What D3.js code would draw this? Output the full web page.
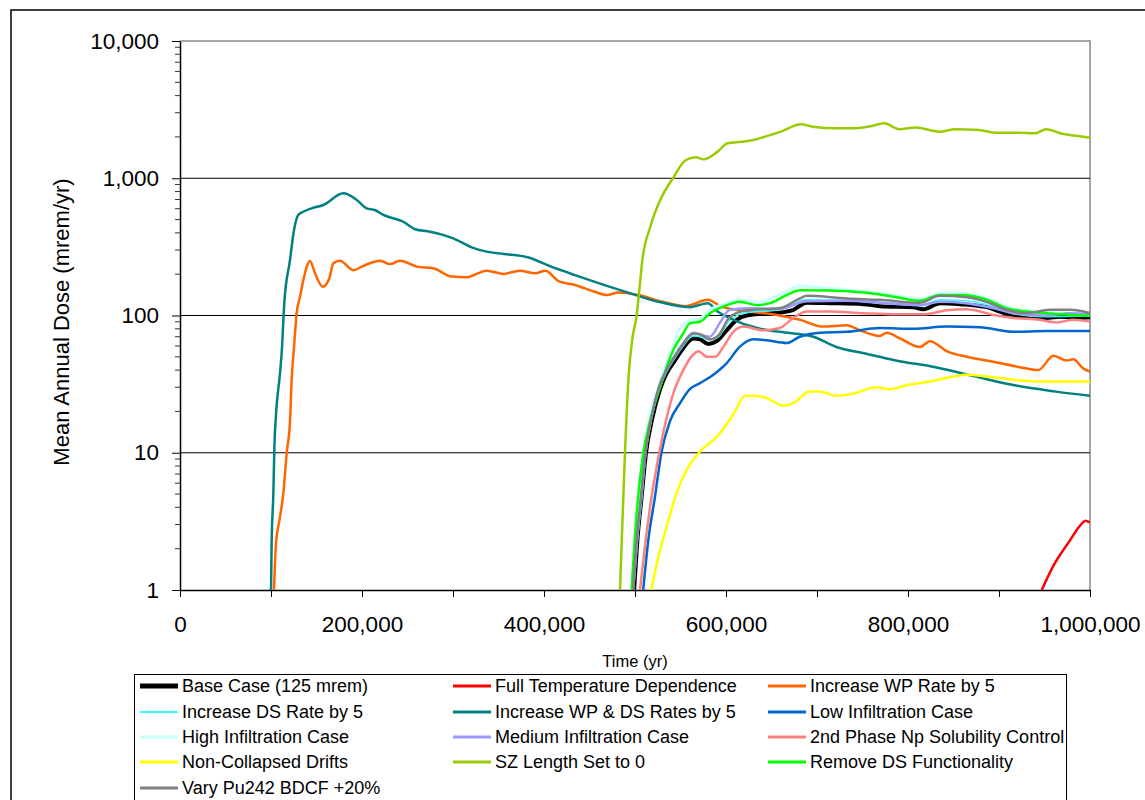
<!DOCTYPE html>
<html>
<head>
<meta charset="utf-8">
<script src="https://cdn.jsdelivr.net/npm/d3@7"></script>
<style>
  body { margin: 0; background: #fff; }
  svg { font-family: "Liberation Sans", Arial, sans-serif; }
</style>
</head>
<body>
<svg id="chart" width="1145" height="800"></svg>
<script>
// [year, mean annual dose in mrem/yr]
const baseCase = [[499000,1],[502600,2.3],[507300,4.8],[512100,10],[518300,17],[527500,29],[534800,38],[543900,47],[553100,58],[564100,68],[571400,67],[580600,62],[589700,65],[600700,78],[611700,93],[622700,100],[641000,103],[659300,105],[674000,110],[688600,124],[714300,123],[750900,121],[769200,117],[805800,115],[816800,111],[835200,123],[857100,121],[886400,115],[908400,103],[926700,98],[952400,96],[967000,98],[989000,96],[1000000,97]];
const fullTemp = [[946900,1],[959700,1.5],[978000,2.3],[990000,3.0],[995000,3.2],[1000000,3.1]];
const increaseWP = [[103300,1],[105500,2.2],[109200,3.2],[113600,5.1],[117200,9.9],[120900,17],[122700,34],[125300,59],[128200,104],[131900,137],[135500,181],[142900,250],[148400,203],[156800,162],[164100,187],[168500,240],[175800,251],[190500,214],[201500,230],[219800,251],[230800,237],[241800,251],[260100,227],[278400,221],[298500,192],[315000,190],[337000,212],[355800,201],[373200,212],[390500,203],[401400,212],[416700,177],[434000,167],[455800,149],[468900,141],[481900,147],[503700,141],[529900,126],[555900,117],[579900,130],[595200,116],[625600,107],[656000,101],[681300,93],[706900,83],[732600,85],[747300,78],[769200,71],[776600,75],[791200,68],[813200,59],[824200,65],[842500,55],[864500,50],[893800,46],[923100,42],[943200,40],[959700,51],[974400,47],[981700,48],[992700,41],[1000000,39]];
const increaseDS = [[498500,1],[503000,2.4],[508000,5],[512000,10],[518500,18],[527500,30],[535000,39],[544000,49],[553000,60],[564000,71],[572000,70],[582000,66],[592000,70],[604000,92],[622700,105],[659000,110],[688600,130],[733000,128],[769000,125],[813000,118],[835000,130],[864000,128],[894000,116],[916000,103],[952000,98],[1000000,99]];
const increaseWPDS = [[100000,1],[100700,2.2],[102600,5.1],[103700,11],[105500,19],[109900,38],[111700,53],[114600,123],[120900,254],[125300,420],[130000,540],[135500,570],[144700,604],[157500,638],[179500,777],[194200,695],[205000,604],[214000,587],[223400,540],[245400,482],[258200,425],[274700,408],[300300,365],[320500,314],[337000,292],[355800,281],[381900,266],[408000,227],[434000,197],[460000,172],[495000,145],[525500,126],[560300,115],[579900,123],[590800,107],[608200,93],[634300,81],[659000,76],[696000,70],[721300,59],[751800,53],[786600,47],[830100,42],[873600,36],[917100,31],[960700,28],[1000000,26]];
const lowInfil = [[509000,1],[514600,2.3],[522000,4.8],[529000,10],[538500,17],[549500,23],[560000,29],[571000,32],[586000,37],[600800,45],[615000,59],[630000,67],[644700,66],[666700,63],[681000,70],[703000,75],[733000,76],[769000,81],[806000,80],[842500,83],[879000,82],[916000,76],[952000,77],[1000000,77]];
const highInfil = [[497000,1],[501500,3],[508000,9],[515000,17],[526000,31],[540000,55],[549000,80],[560000,92],[571000,95],[582000,110],[597000,120],[615000,130],[634000,125],[666700,150],[681000,165],[714000,158],[751000,150],[787600,140],[813000,132],[835000,145],[857000,145],[886000,134],[908000,116],[952000,106],[1000000,102]];
const mediumInfil = [[498000,1],[502500,2.4],[507000,5],[511500,10],[518000,18],[527000,31],[534500,40],[543500,51],[553000,63],[564000,75],[572000,72],[582000,70],[594000,90],[604000,110],[622700,113],[659000,112],[688600,127],[733000,128],[769000,124],[813000,119],[835000,126],[864000,123],[894000,113],[916000,104],[952000,100],[978000,104],[1000000,102]];
const npSolubility = [[505500,1],[511000,2.1],[516500,4],[523800,7.9],[533000,16],[542000,27],[553000,40],[564000,52],[569600,55],[578800,50],[588000,50],[597000,59],[608000,76],[619000,83],[641000,78],[659000,81],[674000,96],[688600,107],[714000,107],[751000,104],[787600,102],[817000,102],[842500,109],[864500,111],[894000,101],[916000,96],[945000,93],[963000,89],[982000,93],[1000000,90]];
const nonCollapsed = [[518000,1],[525600,1.75],[534800,2.9],[545800,5.1],[556800,7.5],[571400,10.2],[589700,13],[608000,19],[621000,26],[632000,26],[644700,25],[663000,22],[674000,23],[692000,28],[703000,28],[721000,26],[740000,27],[765600,30],[780000,29],[798500,31],[824000,33],[850000,36],[864500,37],[886500,36],[916000,34],[949000,33],[1000000,33]];
const szLength = [[483500,1],[486500,3.6],[489000,10],[492700,34],[497400,70],[501800,100],[505000,160],[508000,250],[516800,443],[527700,694],[541700,1000],[556000,1358],[566800,1420],[575500,1374],[590800,1563],[601600,1797],[616900,1845],[629900,1900],[642900,2010],[660400,2184],[682200,2473],[695200,2375],[721300,2312],[743000,2312],[760400,2404],[773600,2513],[791000,2275],[808400,2345],[834500,2184],[851900,2275],[878000,2250],[895400,2148],[921500,2148],[938900,2125],[952000,2275],[969300,2108],[986700,2030],[1000000,1975]];
const removeDS = [[496300,1],[501800,3.6],[509200,10],[516500,17],[527500,30],[542100,56],[553100,74],[560400,88],[571400,90],[582400,104],[597000,116],[615400,126],[633700,119],[648400,123],[666700,141],[681000,153],[714000,152],[751000,147],[787600,136],[813000,128],[835000,141],[857000,141],[886000,131],[908000,113],[930000,107],[952000,104],[978000,101],[1000000,100]];
const varyPu242 = [[498000,1],[502000,2.4],[507000,5],[511500,10],[518000,18],[527000,31],[534500,40],[543500,50],[553000,62],[564000,74],[572000,73],[582000,67],[592000,72],[604000,97],[622700,109],[659000,113],[681000,133],[688600,139],[733000,133],[769000,130],[813000,124],[835000,139],[864500,136],[886000,126],[908000,110],[930000,104],[956000,110],[978000,110],[1000000,104]];

const seriesNames = ['Base Case (125 mrem)', 'Full Temperature Dependence', 'Increase WP Rate by 5',
  'Increase DS Rate by 5', 'Increase WP & DS Rates by 5', 'Low Infiltration Case',
  'High Infiltration Case', 'Medium Infiltration Case', '2nd Phase Np Solubility Control',
  'Non-Collapsed Drifts', 'SZ Length Set to 0', 'Remove DS Functionality', 'Vary Pu242 BDCF +20%'];
const seriesData = [baseCase, fullTemp, increaseWP, increaseDS, increaseWPDS, lowInfil,
  highInfil, mediumInfil, npSolubility, nonCollapsed, szLength, removeDS, varyPu242];
const seriesColors = ['#000000', '#FF0000', '#FF6600', '#33FFFF', '#008080', '#0066CC',
  '#CCFFFF', '#9999FF', '#FF8080', '#FFFF00', '#99CC00', '#00FF00', '#808080'];
const seriesWidths = [4, 2.5, 2.5, 1.5, 2.5, 2.5, 3, 2.5, 2.5, 2.5, 2.5, 2.5, 2.5];

const yTicks = [1, 10, 100, 1000, 10000];
const xTicks = [0, 200000, 400000, 600000, 800000, 1000000];

const svg = d3.select('#chart');
const plotLeft = 180, plotRight = 1090, plotTop = 41, plotBottom = 590;

// outer chart frame (runs off the page on the right and bottom)
svg.append('rect')
  .attr('x', 11).attr('y', 10)
  .attr('width', 1200).attr('height', 900)
  .attr('fill', 'none')
  .attr('stroke', '#000')
  .attr('stroke-width', 1.5);

const xScale = d3.scaleLinear().domain([0, 1000000]).range([plotLeft, plotRight]);
const yScale = d3.scaleLog().domain([1, 10000]).range([plotBottom, plotTop]);

// plot border (gray top/right)
svg.append('path')
  .attr('d', `M${plotLeft},${plotTop}H${plotRight}V${plotBottom}`)
  .attr('fill', 'none')
  .attr('stroke', '#888')
  .attr('stroke-width', 1.5);

// gridlines at the decades
svg.append('g')
  .selectAll('line')
  .data(yTicks.slice(1, -1))
  .enter()
  .append('line')
  .attr('x1', plotLeft).attr('x2', plotRight)
  .attr('y1', (d) => yScale(d)).attr('y2', (d) => yScale(d))
  .attr('stroke', '#000')
  .attr('stroke-width', 1);

// y axis, minor ticks at 2..9 of each decade
const minorTicks = yScale.ticks().filter((d) => !yTicks.includes(d));
const yAxis = svg.append('g').attr('transform', `translate(${plotLeft},0)`);
yAxis.call(d3.axisLeft(yScale).tickValues(yTicks).tickFormat(d3.format(',')).tickSize(8).tickSizeOuter(0).tickPadding(13));
yAxis.append('g')
  .selectAll('line')
  .data(minorTicks)
  .enter()
  .append('line')
  .attr('x1', -5).attr('x2', 0)
  .attr('y1', (d) => yScale(d)).attr('y2', (d) => yScale(d))
  .attr('stroke', '#333');

// x axis, ticks every 100,000 and labels every 200,000
const xAxis = svg.append('g').attr('transform', `translate(0,${plotBottom})`);
xAxis.call(d3.axisBottom(xScale).tickValues(d3.range(0, 1000001, 100000)).tickSize(7).tickSizeOuter(0).tickPadding(19)
  .tickFormat((d) => xTicks.includes(d) ? d3.format(',')(d) : ''));

svg.selectAll('.domain').attr('stroke', '#000').attr('stroke-width', 1.5);
svg.selectAll('.tick line').attr('stroke', '#000');
svg.selectAll('.tick text')
  .attr('font-size', 22.5)
  .attr('font-family', '"Liberation Sans", Arial, sans-serif')
  .attr('fill', '#000');

// axis titles
svg.append('text')
  .attr('transform', 'translate(69,322) rotate(-90)')
  .attr('text-anchor', 'middle')
  .attr('font-size', 22)
  .text('Mean Annual Dose (mrem/yr)');

svg.append('text')
  .attr('x', 635).attr('y', 667)
  .attr('text-anchor', 'middle')
  .attr('font-size', 16.5)
  .text('Time (yr)');

// series lines
svg.append('clipPath').attr('id', 'plotClip')
  .append('rect')
  .attr('x', plotLeft).attr('y', plotTop)
  .attr('width', plotRight - plotLeft).attr('height', plotBottom - plotTop);

const line = d3.line()
  .x((d) => xScale(d[0]))
  .y((d) => yScale(d[1]))
  .curve(d3.curveMonotoneX);

svg.append('g')
  .attr('clip-path', 'url(#plotClip)')
  .selectAll('path')
  .data(seriesData)
  .enter()
  .append('path')
  .attr('d', line)
  .attr('fill', 'none')
  .attr('stroke', (d, i) => seriesColors[i])
  .attr('stroke-width', (d, i) => seriesWidths[i])
  .attr('stroke-linejoin', 'round');

// legend, three columns
svg.append('rect')
  .attr('x', 134.5).attr('y', 674.5)
  .attr('width', 932).attr('height', 200)
  .attr('fill', '#fff')
  .attr('stroke', '#000')
  .attr('stroke-width', 1);

const colX = [140, 453, 768];
const rowY = [686, 712, 737, 762, 788];
const legendItem = svg.append('g')
  .selectAll('g')
  .data(seriesNames)
  .enter()
  .append('g')
  .attr('transform', (d, i) => `translate(${colX[i % 3]},${rowY[Math.floor(i / 3)]})`);

legendItem.append('line')
  .attr('x1', 0).attr('x2', 38)
  .attr('stroke', (d, i) => seriesColors[i])
  .attr('stroke-width', (d, i) => i === 0 ? 5 : seriesWidths[i] + 0.5);

legendItem.append('text')
  .attr('x', 42).attr('dy', '0.35em')
  .attr('font-size', 18)
  .text((d) => d);
</script>
</body>
</html>
